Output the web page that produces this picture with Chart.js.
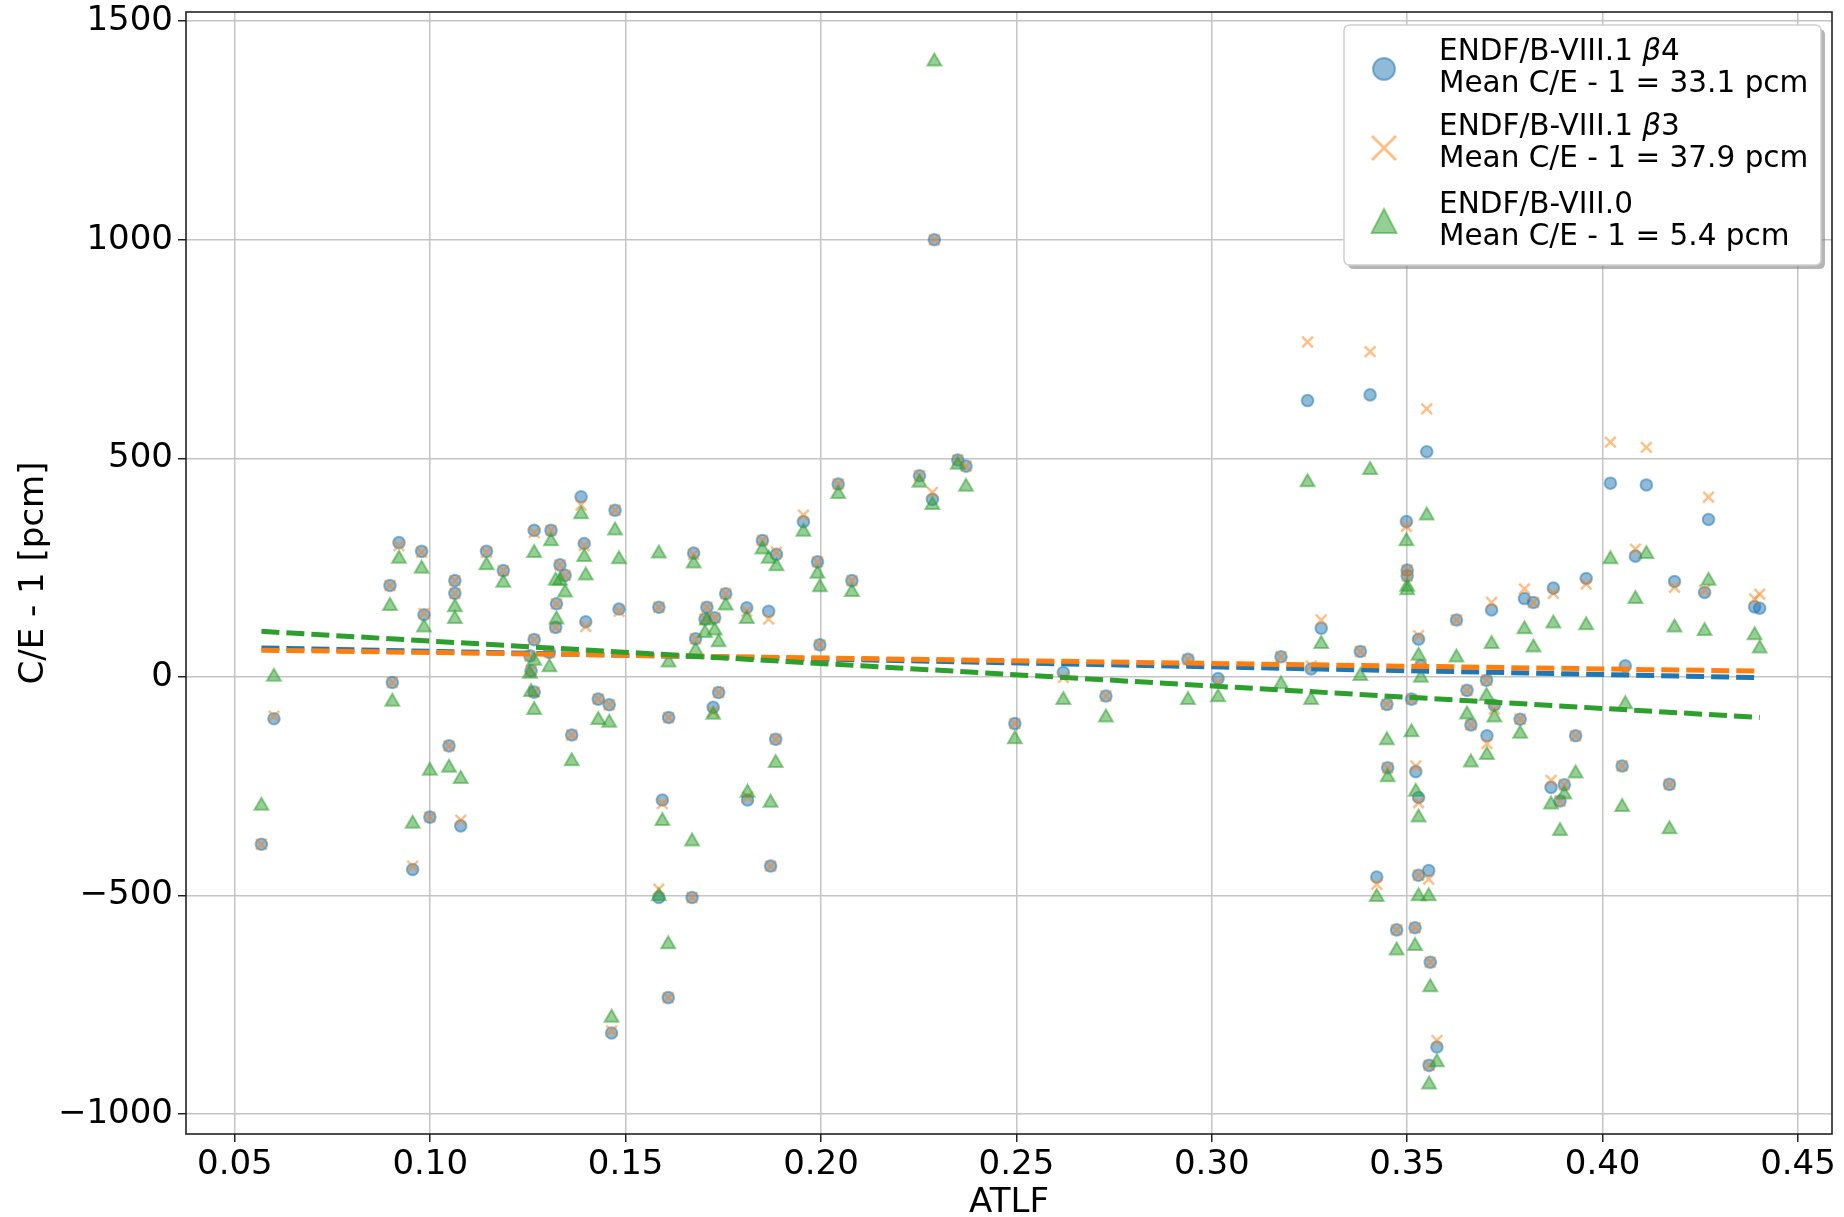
<!DOCTYPE html>
<html>
<head>
<meta charset="utf-8">
<script src="https://cdn.jsdelivr.net/npm/chart.js@4.4.1/dist/chart.umd.min.js"></script>
<style>
  html, body { margin: 0; padding: 0; background: #fff; }
  #wrap { width: 1844px; height: 1217px; }
</style>
</head>
<body>
<div id="wrap"><canvas id="chartCanvas" width="1844" height="1217"></canvas></div>
<script>
// ATLF of each benchmark and its C/E - 1 [pcm] for the three libraries
const atlf = [
  0.0568, 0.0600, 0.0897, 0.0903, 0.0920, 0.0955, 0.0978, 0.0984, 0.0999, 0.1048,
  0.1063, 0.1063, 0.1078, 0.1144, 0.1187, 0.1266, 0.1266, 0.1255, 0.1258, 0.1266,
  0.1309, 0.1323, 0.1321, 0.1305, 0.1332, 0.1345, 0.1362, 0.1386, 0.1394, 0.1398,
  0.1430, 0.1458, 0.1464, 0.1473, 0.1483, 0.1585, 0.1594, 0.1585, 0.1610, 0.1609,
  0.1674, 0.1670, 0.1679, 0.1703, 0.1708, 0.1728, 0.1724, 0.1738, 0.1756, 0.1810,
  0.1812, 0.1850, 0.1866, 0.1871, 0.1886, 0.1884, 0.1955, 0.1991, 0.1997, 0.2044,
  0.2079, 0.2252, 0.2285, 0.2290, 0.2350, 0.2371, 0.2496, 0.2620, 0.2729, 0.2939,
  0.3016, 0.3177, 0.3245, 0.3254, 0.3280, 0.3380, 0.3405, 0.3422, 0.3448, 0.3450,
  0.3473, 0.3498, 0.3500, 0.3500, 0.3511, 0.3520, 0.3522, 0.3529, 0.3529, 0.3529,
  0.3550, 0.3555, 0.3556, 0.3559, 0.3576, 0.3535, 0.3626, 0.3653, 0.3663, 0.3703,
  0.3716, 0.3704, 0.3723, 0.3789, 0.3800, 0.3823, 0.3868, 0.3874, 0.3891, 0.3902,
  0.3931, 0.3958, 0.4020, 0.4058, 0.4050, 0.4084, 0.4112, 0.4171, 0.4184, 0.4261,
  0.4271, 0.4389, 0.4402
];
const ceB4 = [
  -383, -96, 209, -13, 307, -441, 287, 142, -321, -158,
  220, 191, -341, 287, 243, 335, 85, 48, 14, -35,
  335, 167, 113, 56, 256, 232, -133, 412, 305, 126,
  -51, -64, -815, 381, 155, 159, -282, -505, -93, -734,
  283, -505, 87, 132, 159, 135, -70, -36, 190, 158,
  -282, 312, 150, -433, 280, -143, 355, 263, 73, 441,
  220, 460, 406, 1000, 496, 482, -107, 10, -44, 40,
  -4, 46, 632, 18, 111, 58, 645, -458, -63, -208,
  -579, 355, 244, 231, -51, -574, -217, 86, -276, -454,
  515, -443, -889, -653, -847, 25, 130, -31, -110, -8,
  153, -135, -65, -97, 179, 170, -253, 203, -284, -247,
  -135, 225, 443, 25, -204, 276, 439, -246, 218, 193,
  360, 160, 157
];
const ceB3 = [
  -383, -90, 209, -13, 300, -433, 285, 145, -321, -158,
  220, 191, -328, 285, 243, 330, 85, 48, 14, -35,
  335, 167, 113, 56, 256, 232, -133, 393, 300, 115,
  -51, -64, -810, 381, 150, 159, -290, -486, -93, -734,
  280, -505, 87, 132, 159, 135, -80, -36, 190, 150,
  -275, 312, 132, -433, 285, -143, 370, 263, 73, 441,
  220, 460, 422, 1000, 496, 482, -107, -2, -44, 40,
  -13, 46, 766, 25, 130, 58, 744, -475, -63, -208,
  -579, 344, 244, 231, -51, -574, -204, 94, -288, -454,
  613, -463, -889, -653, -832, 25, 130, -31, -110, -8,
  170, -153, -74, -97, 201, 170, -237, 191, -284, -247,
  -135, 212, 537, 14, -204, 292, 525, -246, 205, 198,
  411, 178, 189
];
const ceB80 = [
  -295, 0, 162, -57, 270, -336, 247, 113, -215, -208,
  159, 132, -234, 255, 215, 283, 37, 7, -35, -76,
  310, 131, 220, 22, 220, 193, -193, 372, 274, 232,
  -99, -105, -780, 335, 269, 282, -330, -502, 33, -612,
  259, -377, 60, 100, 129, 106, -87, 79, 163, 132,
  -265, 291, 270, -288, 253, -197, 332, 236, 205, 418,
  194, 444, 393, 1408, 485, 435, -143, -53, -93, -53,
  -47, -17, 445, -53, 75, 2, 473, -504, -145, -230,
  -626, 310, 206, 198, -127, -616, -263, 48, -322, -502,
  369, -502, -933, -710, -882, -2, 44, -86, -196, -44,
  75, -179, -93, -130, 109, 67, -292, 122, -353, -269,
  -221, 118, 269, -63, -298, 178, 281, -349, 113, 105,
  220, 95, 65
];

// linear trend lines (end points)
const fitX = [0.0568, 0.4402];
const fitB4 = [66, -2];
const fitB3 = [61, 13];
const fitB80 = [104, -93];

const libNames = ['ENDF/B-VIII.1 ', 'ENDF/B-VIII.1 ', 'ENDF/B-VIII.0'];
const libBeta = ['4', '3', null];
const meanCE = [33.1, 37.9, 5.4];

const xTicks = [0.05, 0.10, 0.15, 0.20, 0.25, 0.30, 0.35, 0.40, 0.45];
const yTicks = [-1000, -500, 0, 500, 1000, 1500];

const BLUE = '31,119,180', ORANGE = '255,127,14', GREEN = '44,160,44';
const FONT = 'DejaVu Sans';

const pts = (xs, ys) => xs.map((x, i) => ({ x: x, y: ys[i] }));

// box around the axes, like matplotlib spines
const frame = {
    id: 'frame',
    afterDatasetsDraw(chart) {
        const { ctx, chartArea: a } = chart;
        ctx.save();
        ctx.strokeStyle = '#222';
        ctx.lineWidth = 1.6;
        ctx.strokeRect(a.left, a.top, a.right - a.left, a.bottom - a.top);
        ctx.restore();
    }
};

function roundRect(ctx, x, y, w, h, r) {
    ctx.beginPath();
    ctx.moveTo(x + r, y);
    ctx.lineTo(x + w - r, y);
    ctx.quadraticCurveTo(x + w, y, x + w, y + r);
    ctx.lineTo(x + w, y + h - r);
    ctx.quadraticCurveTo(x + w, y + h, x + w - r, y + h);
    ctx.lineTo(x + r, y + h);
    ctx.quadraticCurveTo(x, y + h, x, y + h - r);
    ctx.lineTo(x, y + r);
    ctx.quadraticCurveTo(x, y, x + r, y);
    ctx.closePath();
}

// two-line legend with a shadow, top right
const legendBox = {
    id: 'legendBox',
    afterDraw(chart) {
        const { ctx, chartArea: a } = chart;
        const x0 = a.right - 488, y0 = a.top + 13, w = 477, h = 240;
        ctx.save();
        roundRect(ctx, x0 + 4, y0 + 4, w, h, 6);
        ctx.fillStyle = 'rgba(120,120,120,0.55)';
        ctx.fill();
        roundRect(ctx, x0, y0, w, h, 6);
        ctx.fillStyle = '#fff';
        ctx.fill();
        ctx.strokeStyle = '#cfcfcf';
        ctx.lineWidth = 1.5;
        ctx.stroke();

        const mx = x0 + 40;
        const markY = [y0 + 44, y0 + 123, y0 + 197];
        // circle
        ctx.beginPath();
        ctx.arc(mx, markY[0], 11, 0, Math.PI * 2);
        ctx.fillStyle = `rgba(${BLUE},0.5)`;
        ctx.fill();
        ctx.strokeStyle = `rgba(${BLUE},0.5)`;
        ctx.lineWidth = 2;
        ctx.stroke();
        // cross
        ctx.beginPath();
        ctx.moveTo(mx - 12, markY[1] - 12); ctx.lineTo(mx + 12, markY[1] + 12);
        ctx.moveTo(mx - 12, markY[1] + 12); ctx.lineTo(mx + 12, markY[1] - 12);
        ctx.strokeStyle = `rgba(${ORANGE},0.5)`;
        ctx.lineWidth = 3;
        ctx.stroke();
        // triangle
        ctx.beginPath();
        ctx.moveTo(mx, markY[2] - 13);
        ctx.lineTo(mx + 12.5, markY[2] + 11);
        ctx.lineTo(mx - 12.5, markY[2] + 11);
        ctx.closePath();
        ctx.fillStyle = `rgba(${GREEN},0.5)`;
        ctx.fill();
        ctx.strokeStyle = `rgba(${GREEN},0.5)`;
        ctx.lineWidth = 2;
        ctx.stroke();

        const tx = x0 + 95;
        const base1 = [y0 + 35, y0 + 110, y0 + 188];
        const f = `29.5px "${FONT}"`, fi = `italic 29.5px "${FONT}"`;
        ctx.fillStyle = '#000';
        ctx.textBaseline = 'alphabetic';
        ctx.textAlign = 'left';
        for (let i = 0; i < 3; i++) {
            ctx.font = f;
            ctx.fillText(libNames[i], tx, base1[i]);
            if (libBeta[i]) {
                let cx = tx + ctx.measureText(libNames[i]).width;
                ctx.font = fi;
                ctx.fillText('\u03b2', cx, base1[i]);
                cx += ctx.measureText('\u03b2').width;
                ctx.font = f;
                ctx.fillText(libBeta[i], cx, base1[i]);
            }
            ctx.fillText(`Mean C/E - 1 = ${meanCE[i].toFixed(1)} pcm`, tx, base1[i] + 32);
        }
        ctx.restore();
    }
};

const ctx = document.getElementById('chartCanvas').getContext('2d');
const chart = new Chart(ctx, {
    type: 'scatter',
    data: {
        datasets: [
            {
                label: 'fit VIII.0', data: pts(fitX, fitB80), showLine: true,
                borderColor: `rgb(${GREEN})`, borderWidth: 5, borderDash: [18, 7],
                pointRadius: 0, order: 0
            },
            {
                label: 'fit VIII.1 b3', data: pts(fitX, fitB3), showLine: true,
                borderColor: `rgb(${ORANGE})`, borderWidth: 5, borderDash: [18, 7],
                pointRadius: 0, order: 1
            },
            {
                label: 'fit VIII.1 b4', data: pts(fitX, fitB4), showLine: true,
                borderColor: `rgb(${BLUE})`, borderWidth: 5, borderDash: [18, 7],
                pointRadius: 0, order: 2
            },
            {
                label: 'ENDF/B-VIII.0', data: pts(atlf, ceB80), pointStyle: 'triangle',
                pointRadius: 8, borderWidth: 2,
                backgroundColor: `rgba(${GREEN},0.5)`, borderColor: `rgba(${GREEN},0.5)`, order: 3
            },
            {
                label: 'ENDF/B-VIII.1 b3', data: pts(atlf, ceB3), pointStyle: 'crossRot',
                pointRadius: 7.5, borderWidth: 2.5,
                backgroundColor: `rgba(${ORANGE},0.5)`, borderColor: `rgba(${ORANGE},0.5)`, order: 4
            },
            {
                label: 'ENDF/B-VIII.1 b4', data: pts(atlf, ceB4), pointStyle: 'circle',
                pointRadius: 5.8, borderWidth: 2,
                backgroundColor: `rgba(${BLUE},0.5)`, borderColor: `rgba(${BLUE},0.5)`, order: 5
            }
        ]
    },
    options: {
        responsive: false,
        animation: false,
        events: [],
        layout: { padding: { top: 12, right: 12, left: 0, bottom: 0 } },
        plugins: { legend: { display: false }, tooltip: { enabled: false } },
        scales: {
            x: {
                type: 'linear', min: 0.0375, max: 0.4587,
                afterBuildTicks: (s) => { s.ticks = xTicks.map(v => ({ value: v })); },
                afterFit: (s) => { s.height = 83; s.paddingLeft = 0; s.paddingRight = 0; },
                ticks: {
                    autoSkip: false, maxRotation: 0, padding: 3, color: '#000',
                    font: { family: FONT, size: 34 },
                    callback: (v) => Number(v).toFixed(2)
                },
                grid: { color: '#c4c4c4', lineWidth: 1.5, tickColor: '#222', tickLength: 8, tickWidth: 1.5 },
                border: { display: false },
                title: { display: true, text: 'ATLF', color: '#000', font: { family: FONT, size: 34 }, padding: { top: 0, bottom: -7 } }
            },
            y: {
                type: 'linear', min: -1046, max: 1521,
                afterBuildTicks: (s) => { s.ticks = yTicks.map(v => ({ value: v })); },
                afterFit: (s) => { s.width = 186; s.paddingTop = 0; s.paddingBottom = 0; },
                ticks: {
                    padding: 5, color: '#000',
                    font: { family: FONT, size: 34 },
                    callback: (v) => String(v).replace('-', '\u2212')
                },
                grid: { color: '#c4c4c4', lineWidth: 1.5, tickColor: '#222', tickLength: 8, tickWidth: 1.5 },
                border: { display: false },
                title: { display: true, text: 'C/E - 1 [pcm]', color: '#000', font: { family: FONT, size: 34 }, padding: { top: 14, bottom: 0 } }
            }
        }
    },
    plugins: [frame, legendBox]
});
</script>
</body>
</html>
